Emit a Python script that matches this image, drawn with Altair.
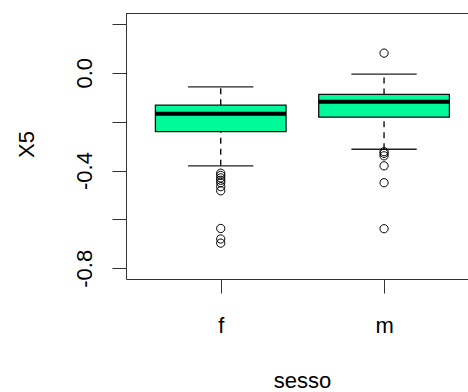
import altair as alt
import pandas as pd

# Groups and their five-number summaries
groups = ["f", "m"]
lower_whisker = [-0.381, -0.313]
q1 = [-0.241, -0.182]
median = [-0.168, -0.119]
q3 = [-0.133, -0.089]
upper_whisker = [-0.058, -0.006]

# Points beyond the whiskers
outliers_f = [-0.411, -0.420, -0.430, -0.440, -0.450, -0.466, -0.483, -0.637, -0.680, -0.697]
outliers_m = [0.080, -0.323, -0.330, -0.340, -0.381, -0.450, -0.638]

# Axis ticks and which of them carry a label
y_ticks = [0.2, 0.0, -0.2, -0.4, -0.6, -0.8]
y_labels = {0.0: "0.0", -0.4: "-0.4", -0.8: "-0.8"}

BOX_HALF = 0.4
CAP_HALF = 0.2
FILL = "#00FA9A"
FONT = "Liberation Sans"
FS = 22

pos = list(range(1, len(groups) + 1))
stats = pd.DataFrame({
    "group": groups,
    "pos": pos,
    "lo": [p - BOX_HALF for p in pos],
    "hi": [p + BOX_HALF for p in pos],
    "cap_lo": [p - CAP_HALF for p in pos],
    "cap_hi": [p + CAP_HALF for p in pos],
    "wlo": lower_whisker,
    "q1": q1,
    "med": median,
    "q3": q3,
    "whi": upper_whisker,
})
out = pd.DataFrame({
    "pos": [1] * len(outliers_f) + [2] * len(outliers_m),
    "value": outliers_f + outliers_m,
})

xscale = alt.Scale(domain=[0.42, 2.514], nice=False, zero=False)
yscale = alt.Scale(domain=[-0.8436, 0.244], nice=False, zero=False)

label_expr_x = "[" + ",".join(f"'{g}'" for g in groups) + "][datum.value - 1]"
label_expr_y = " : ".join(
    f"datum.value == {v} ? '{t}'" for v, t in y_labels.items()
) + " : ''"

x_axis = alt.Axis(
    values=pos, labelExpr=label_expr_x, title="sesso", grid=False,
    tickSize=14, labelPadding=39, labelBaseline="alphabetic",
    labelFont=FONT, labelFontSize=FS, labelColor="black",
    titleFont=FONT, titleFontSize=FS, titleFontWeight="normal", titleColor="black",
    titleX=176, titleY=108, titleBaseline="alphabetic", titleAnchor="middle",
    domainColor="#333", tickColor="#333",
)
y_axis = alt.Axis(
    values=y_ticks, labelExpr=label_expr_y, title="X5", grid=False,
    tickSize=14, labelAngle=-90, labelAlign="center", labelBaseline="alphabetic",
    labelPadding=21, labelFont=FONT, labelFontSize=FS, labelColor="black",
    titleFont=FONT, titleFontSize=FS, titleFontWeight="normal", titleColor="black",
    titleAngle=-90, titleX=-93, titleY=131, titleAlign="center", titleBaseline="alphabetic",
    domainColor="#333", tickColor="#333",
)

base = alt.Chart(stats)

whisker_up = base.mark_rule(color="black", strokeWidth=1.3, strokeDash=[6, 5]).encode(
    x=alt.X("pos:Q", scale=xscale, axis=x_axis),
    y=alt.Y("q3:Q", scale=yscale, axis=y_axis),
    y2="whi:Q",
)
whisker_dn = base.mark_rule(color="black", strokeWidth=1.3, strokeDash=[6, 5]).encode(
    x="pos:Q", y="wlo:Q", y2="q1:Q"
)
cap_up = base.mark_rule(color="#222", strokeWidth=1.3).encode(
    x="cap_lo:Q", x2="cap_hi:Q", y="whi:Q"
)
cap_dn = base.mark_rule(color="#222", strokeWidth=1.3).encode(
    x="cap_lo:Q", x2="cap_hi:Q", y="wlo:Q"
)
box = base.mark_rect(fill=FILL, stroke="#111", strokeWidth=1.3).encode(
    x="lo:Q", x2="hi:Q", y="q1:Q", y2="q3:Q"
)
med = base.mark_rule(color="black", strokeWidth=4).encode(
    x="lo:Q", x2="hi:Q", y="med:Q"
)
pts = alt.Chart(out).mark_point(
    shape="circle", filled=False, color="black", size=68, strokeWidth=1, opacity=1
).encode(x="pos:Q", y="value:Q")

top_border = alt.Chart(stats).mark_rule(color="#333", strokeWidth=1).encode(
    x=alt.value(0), x2=alt.value(342), y=alt.value(0.5)
)

chart = alt.layer(
    whisker_up, whisker_dn, cap_up, cap_dn, box, med, pts, top_border
).properties(
    width=342, height=266,
    padding={"left": 126, "top": 13, "right": 0, "bottom": 113},
    autosize=alt.AutoSizeParams(type="none"),
    background="white",
).configure_view(stroke=None)

chart.save("out.html", embed_options={"renderer": "svg", "actions": False})
